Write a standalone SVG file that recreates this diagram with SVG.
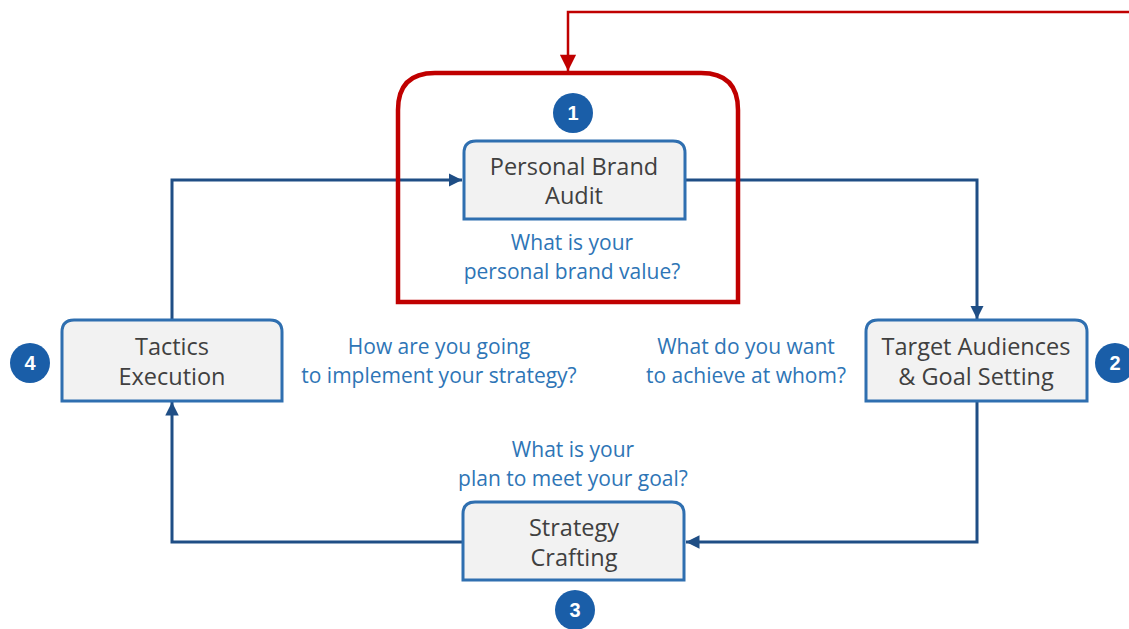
<svg xmlns="http://www.w3.org/2000/svg" width="1129" height="629" viewBox="0 0 1129 629">
<defs>
<style>
.box{fill:#f2f2f2;stroke:#2f6fb0;stroke-width:3}
.lbl{font-family:"Open Sans","Noto Sans",sans-serif;font-size:23.5px;fill:#404040;text-anchor:middle}
.q{font-family:"Open Sans","Noto Sans",sans-serif;font-size:21px;fill:#2e75b6;text-anchor:middle}
.num{fill:#1a5ea8}
.numt{font-family:"Liberation Sans",Arial,sans-serif;font-size:20px;font-weight:bold;fill:#fff;text-anchor:middle}
.conn{fill:none;stroke:#1f4e85;stroke-width:3}
</style>
<marker id="ab" viewBox="0 0 10 10" refX="10" refY="5" markerWidth="4.5" markerHeight="4.5" orient="auto" markerUnits="strokeWidth"><path d="M0,0 L10,5 L0,10 z" fill="#1f4e85"/></marker>
<marker id="ar" viewBox="0 0 10 10" refX="10" refY="5" markerWidth="7" markerHeight="6.5" orient="auto" markerUnits="strokeWidth"><path d="M0,0 L10,5 L0,10 z" fill="#c00000"/></marker>
</defs>
<rect width="1129" height="629" fill="#fff"/>
<g id="connectors">
<path class="conn" d="M172,320 V180 H462" marker-end="url(#ab)"/>
<path class="conn" d="M685,180 H977 V319" marker-end="url(#ab)"/>
<path class="conn" d="M977,401 V542 H686" marker-end="url(#ab)"/>
<path class="conn" d="M463,542 H172 V402" marker-end="url(#ab)"/>
<path d="M1129,12 H568 V71" fill="none" stroke="#c00000" stroke-width="2.5" marker-end="url(#ar)"/>
</g>
<g id="highlight">
<path d="M398,302 V110 Q398,73 435,73 H701 Q738,73 738,110 V302 Z" fill="none" stroke="#c00000" stroke-width="4.5"/>
</g>
<g id="node1">
<path class="box" d="M464,219 V153 Q464,141 476,141 H673 Q685,141 685,153 V219 Z"/>
<text class="lbl" x="574" y="175">Personal Brand</text>
<text class="lbl" x="574" y="204">Audit</text>
<circle class="num" cx="573" cy="113" r="20"/>
<text class="numt" x="573" y="120">1</text>
<text class="q" x="572" y="250">What is your</text>
<text class="q" x="572" y="279">personal brand value?</text>
</g>
<g id="node2">
<path class="box" d="M866,401 V332 Q866,320 878,320 H1075 Q1087,320 1087,332 V401 Z"/>
<text class="lbl" x="976" y="355">Target Audiences</text>
<text class="lbl" x="976" y="385">&amp; Goal Setting</text>
<circle class="num" cx="1115" cy="363" r="20"/>
<text class="numt" x="1115" y="370">2</text>
<text class="q" x="746" y="354">What do you want</text>
<text class="q" x="746" y="383">to achieve at whom?</text>
</g>
<g id="node3">
<path class="box" d="M463,580 V514 Q463,502 475,502 H672 Q684,502 684,514 V580 Z"/>
<text class="lbl" x="574" y="536">Strategy</text>
<text class="lbl" x="574" y="566">Crafting</text>
<circle class="num" cx="575" cy="610" r="20"/>
<text class="numt" x="575" y="617">3</text>
<text class="q" x="573" y="457">What is your</text>
<text class="q" x="573" y="486">plan to meet your goal?</text>
</g>
<g id="node4">
<path class="box" d="M62,401 V332 Q62,320 74,320 H270 Q282,320 282,332 V401 Z"/>
<text class="lbl" x="172" y="355">Tactics</text>
<text class="lbl" x="172" y="385">Execution</text>
<circle class="num" cx="30" cy="363" r="20"/>
<text class="numt" x="30" y="370">4</text>
<text class="q" x="439" y="354">How are you going</text>
<text class="q" x="439" y="383">to implement your strategy?</text>
</g>
</svg>
